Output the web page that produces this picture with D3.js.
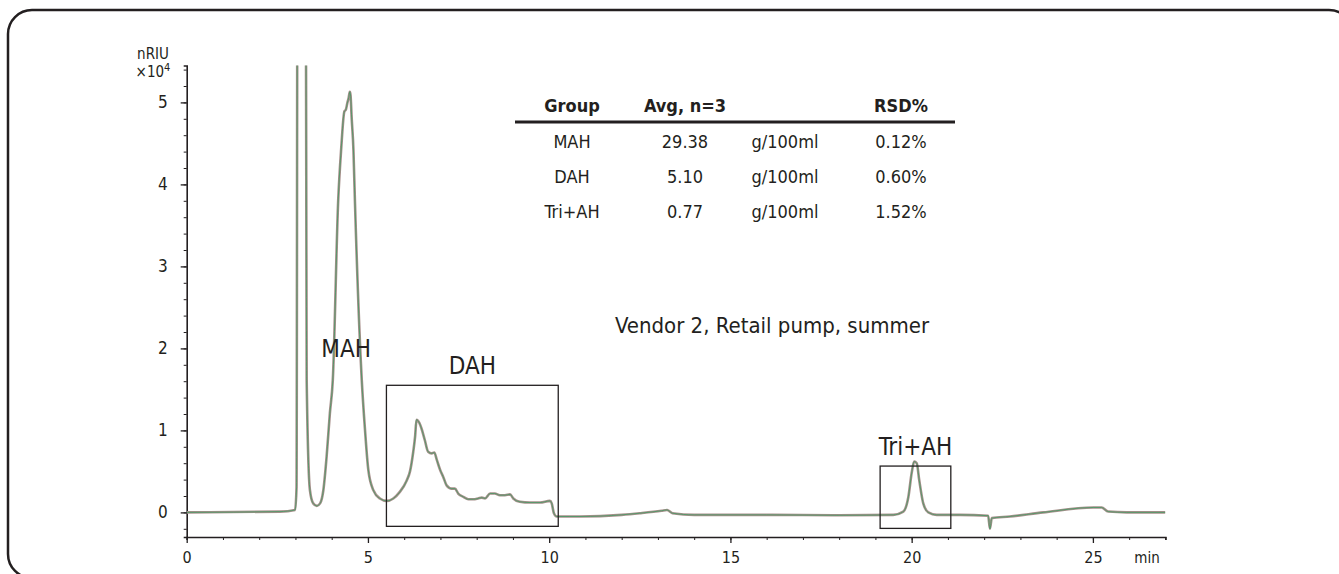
<!DOCTYPE html>
<html>
<head>
    <title>Chromatogram - Vendor 2, Retail pump, summer</title>
    <script src="https://cdn.jsdelivr.net/npm/d3@7"></script>
    <style>
        body { margin: 0; background: #fff; }
        svg text {
            font-family: 'Liberation Sans Narrow', 'DejaVu Sans Condensed', sans-serif;
            fill: #231f20;
        }
        .axis path, .axis line { stroke: #231f20; }
    </style>
</head>
<body>
    <div id="chart"></div>

    <script>
        // retention time (min) and RI signal (x10^4 nRIU)
        const timeMin = [0, 2.57, 2.99, 3.03, 3.06, 3.28, 3.31, 3.40, 3.49, 3.59, 3.68, 3.77, 3.86, 3.95, 4.03,
            4.18, 4.26, 4.35, 4.39, 4.43, 4.47, 4.50, 4.52, 4.55, 4.60, 4.64, 4.83, 4.92, 5.01, 5.15, 5.33, 5.52,
            5.70, 5.88, 6.07, 6.16, 6.25, 6.30, 6.34, 6.42, 6.48, 6.57, 6.66, 6.76, 6.83, 6.90, 6.99, 7.08, 7.17,
            7.31, 7.40, 7.49, 7.63, 7.77, 7.91, 8.04, 8.14, 8.23, 8.37, 8.50, 8.64, 8.78, 8.92, 9.01, 9.19, 9.47,
            9.75, 10.02, 10.07, 10.13, 10.21, 10.57, 10.85, 12.0, 12.5, 13.1, 13.25, 13.4, 14.0, 16.0, 18.0, 19.49,
            19.77, 19.91, 20.0, 20.07, 20.14, 20.21, 20.32, 20.46, 20.69, 21.33, 22.11, 22.16, 22.21, 22.71, 23.63,
            25.01, 25.24, 25.42, 25.93, 26.85, 27.0];
        const signal = [0, 0.01, 0.03, 0.3, 8, 8, 1.61, 0.27, 0.11, 0.08, 0.11, 0.27, 0.68, 1.21, 1.61,
            3.81, 4.42, 4.89, 4.91, 4.99, 5.06, 5.13, 5.09, 4.82, 4.42, 3.81, 1.61, 1.00, 0.52, 0.27, 0.17, 0.14,
            0.17, 0.25, 0.39, 0.50, 0.74, 0.92, 1.13, 1.09, 1.02, 0.88, 0.74, 0.72, 0.73, 0.64, 0.52, 0.43, 0.33,
            0.29, 0.29, 0.23, 0.19, 0.16, 0.16, 0.17, 0.18, 0.17, 0.23, 0.23, 0.21, 0.21, 0.22, 0.17, 0.13, 0.12,
            0.12, 0.14, 0.11, -0.01, -0.05, -0.05, -0.05, -0.03, -0.01, 0.02, 0.03, -0.01, -0.03, -0.03, -0.035, -0.03,
            0.01, 0.19, 0.48, 0.62, 0.60, 0.39, 0.11, 0.0, -0.03, -0.03, -0.04, -0.20, -0.07, -0.05, 0.0,
            0.06, 0.06, 0.01, 0.0, 0.0, 0.0];

        const xTicks = [0, 5, 10, 15, 20, 25];
        const yTicks = [0, 1, 2, 3, 4, 5];

        // integration windows drawn as boxes
        const boxNames = ['DAH', 'Tri+AH'];
        const boxFrom = [5.51, 19.13];
        const boxTo = [10.25, 21.08];
        const boxHigh = [1.55, 0.565];
        const boxLow = [-0.17, -0.195];

        // results table
        const tableHeader = ['Group', 'Avg, n=3', '', 'RSD%'];
        const groups = ['MAH', 'DAH', 'Tri+AH'];
        const avgValues = ['29.38', '5.10', '0.77'];
        const units = ['g/100ml', 'g/100ml', 'g/100ml'];
        const rsd = ['0.12%', '0.60%', '1.52%'];

        const W = 1339, H = 574;

        const svg = d3.select('#chart')
            .append('svg')
            .attr('width', W)
            .attr('height', H);

        // rounded frame
        svg.append('rect')
            .attr('x', 8).attr('y', 10)
            .attr('width', 1345).attr('height', 568)
            .attr('rx', 24).attr('ry', 24)
            .attr('fill', 'none')
            .attr('stroke', '#231f20')
            .attr('stroke-width', 2.5);

        const x = d3.scaleLinear().domain([0, 27]).range([186.7, 1165.4]);
        const y = d3.scaleLinear().domain([-0.3, 5.45]).range([537, 65.5]);

        // x axis: major ticks every 5, minor every 1
        svg.append('g')
            .attr('class', 'axis')
            .attr('transform', 'translate(0,' + y(-0.3) + ')')
            .call(d3.axisBottom(x).tickValues(d3.range(0, 28, 1)).tickSize(3).tickFormat(''))
            .call(function(g) { g.select('.domain').attr('stroke-width', 1.6); });

        svg.append('g')
            .attr('class', 'axis')
            .attr('transform', 'translate(0,' + y(-0.3) + ')')
            .call(d3.axisBottom(x).tickValues(xTicks).tickSize(6).tickPadding(9).tickFormat(d3.format('d')))
            .call(function(g) {
                g.select('.domain').remove();
                g.selectAll('line').attr('stroke-width', 1.3);
                g.selectAll('text').style('font-size', '16px');
            });

        // y axis: major every 1, minor every 0.2
        svg.append('g')
            .attr('class', 'axis')
            .attr('transform', 'translate(' + x(0) + ',0)')
            .call(d3.axisLeft(y).tickValues(d3.range(-0.2, 5.41, 0.2)).tickSize(3).tickFormat(''))
            .call(function(g) { g.select('.domain').attr('stroke-width', 1.6); });

        svg.append('g')
            .attr('class', 'axis')
            .attr('transform', 'translate(' + x(0) + ',0)')
            .call(d3.axisLeft(y).tickValues(yTicks).tickSize(6).tickPadding(13).tickFormat(d3.format('d')))
            .call(function(g) {
                g.select('.domain').remove();
                g.selectAll('line').attr('stroke-width', 1.3);
                g.selectAll('text').style('font-size', '17px');
            });

        // axis units
        svg.append('text')
            .attr('x', 153).attr('y', 59)
            .style('text-anchor', 'middle').style('font-size', '15px')
            .text('nRIU');
        const mult = svg.append('text')
            .attr('x', 153).attr('y', 77)
            .style('text-anchor', 'middle').style('font-size', '15px');
        mult.append('tspan').text('\u00d710');
        mult.append('tspan').attr('dy', -6).style('font-size', '11px').text('4');

        svg.append('text')
            .attr('x', 1147).attr('y', 563)
            .style('text-anchor', 'middle').style('font-size', '15px')
            .text('min');

        // trace, clipped at top of y axis
        svg.append('clipPath').attr('id', 'plotclip')
            .append('rect')
            .attr('x', x(0)).attr('y', y(5.45))
            .attr('width', x(27) - x(0)).attr('height', y(-0.3) - y(5.45));

        const pts = timeMin.map(function(t, i) { return [t, signal[i]]; });
        const line = d3.line()
            .x(function(d) { return x(d[0]); })
            .y(function(d) { return y(d[1]); })
            .curve(d3.curveMonotoneX);

        svg.append('path')
            .datum(pts)
            .attr('clip-path', 'url(#plotclip)')
            .attr('fill', 'none')
            .attr('stroke', '#a8908c')
            .attr('stroke-width', 2.6)
            .attr('d', line);

        svg.append('path')
            .datum(pts)
            .attr('clip-path', 'url(#plotclip)')
            .attr('fill', 'none')
            .attr('stroke', '#2f9a5a')
            .attr('stroke-opacity', 0.75)
            .attr('stroke-width', 0.9)
            .attr('d', line);

        // integration boxes
        boxNames.forEach(function(name, i) {
            svg.append('rect')
                .attr('x', x(boxFrom[i]))
                .attr('y', y(boxHigh[i]))
                .attr('width', x(boxTo[i]) - x(boxFrom[i]))
                .attr('height', y(boxLow[i]) - y(boxHigh[i]))
                .attr('fill', 'none')
                .attr('stroke', '#231f20')
                .attr('stroke-width', 1.3);
            svg.append('text')
                .attr('x', x((boxFrom[i] + boxTo[i]) / 2))
                .attr('y', y(boxHigh[i]) - 11)
                .style('text-anchor', 'middle')
                .style('font-size', '24px')
                .text(name);
        });

        svg.append('text')
            .attr('x', x(4.4)).attr('y', 357)
            .style('text-anchor', 'middle')
            .style('font-size', '24px')
            .text('MAH');

        svg.append('text')
            .attr('x', 772).attr('y', 333)
            .style('text-anchor', 'middle')
            .style('font-size', '22px')
            .text('Vendor 2, Retail pump, summer');

        // results table
        const colX = [572, 685, 785, 901];
        tableHeader.forEach(function(h, j) {
            svg.append('text')
                .attr('x', colX[j]).attr('y', 112)
                .style('text-anchor', 'middle')
                .style('font-size', '18px')
                .style('font-weight', 'bold')
                .text(h);
        });
        svg.append('line')
            .attr('x1', 515).attr('x2', 955)
            .attr('y1', 122).attr('y2', 122)
            .attr('stroke', '#231f20')
            .attr('stroke-width', 3);

        groups.forEach(function(g, i) {
            const row = [g, avgValues[i], units[i], rsd[i]];
            row.forEach(function(v, j) {
                svg.append('text')
                    .attr('x', colX[j]).attr('y', 148 + i * 35)
                    .style('text-anchor', 'middle')
                    .style('font-size', '18px')
                    .text(v);
            });
        });
    </script>
</body>
</html>
